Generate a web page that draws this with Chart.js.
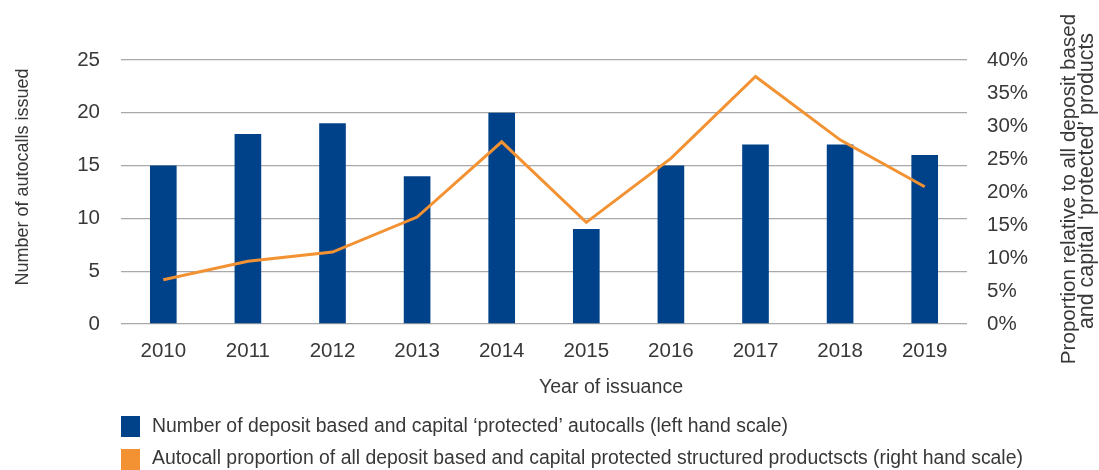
<!DOCTYPE html>
<html>
<head>
<meta charset="utf-8">
<script src="https://cdn.jsdelivr.net/npm/chart.js@4.4.1/dist/chart.umd.min.js"></script>
<style>
  html, body { margin: 0; padding: 0; background: #ffffff; }
  #wrap { position: relative; width: 1099px; height: 470px; }
</style>
</head>
<body>
<div id="wrap"><canvas id="c" width="1099" height="470"></canvas></div>
<script>
// Autocall issuance by year
const years = ['2010', '2011', '2012', '2013', '2014', '2015', '2016', '2017', '2018', '2019'];
const autocallCounts = [15, 18, 19, 14, 20, 9, 15, 17, 17, 16];
const autocallSharePct = [6.7, 9.5, 10.9, 16.2, 27.6, 15.4, 25.1, 37.5, 27.9, 20.8];

const countAxisTicks = [0, 5, 10, 15, 20, 25];
const shareAxisTicks = [0, 5, 10, 15, 20, 25, 30, 35, 40];

const countAxisTitle = 'Number of autocalls issued';
const shareAxisTitle = ['Proportion relative to all deposit based', 'and capital \u2018protected\u2019 products'];
const yearAxisTitle = 'Year of issuance';
const seriesNames = [
  'Number of deposit based and capital \u2018protected\u2019 autocalls (left hand scale)',
  'Autocall proportion of all deposit based and capital protected structured productscts (right hand scale)'
];

const BLUE = '#00428a';
const ORANGE = '#f39232';
const TEXT = '#383838';
const FONT = '"Liberation Sans", Arial, Helvetica, sans-serif';

// Axis titles and the legend are painted by hand so they can sit exactly where wanted
const annotations = {
  id: 'annotations',
  afterDraw(chart) {
    const ctx = chart.ctx;
    ctx.save();
    ctx.fillStyle = TEXT;

    // left axis title, reading upwards
    ctx.font = '18px ' + FONT;
    ctx.textAlign = 'center';
    ctx.textBaseline = 'alphabetic';
    ctx.save();
    ctx.translate(28, 177);
    ctx.rotate(-Math.PI / 2);
    ctx.fillText(countAxisTitle, 0, 0);
    ctx.restore();

    // right axis title, two lines reading upwards
    ctx.font = '20.6px ' + FONT;
    ctx.save();
    ctx.translate(1075, 189);
    ctx.rotate(-Math.PI / 2);
    ctx.fillText(shareAxisTitle[0], 0, 0);
    ctx.restore();
    ctx.font = '21.4px ' + FONT;
    ctx.save();
    ctx.translate(1093, 181);
    ctx.rotate(-Math.PI / 2);
    ctx.fillText(shareAxisTitle[1], 0, 0);
    ctx.restore();

    // x axis title
    ctx.font = '19.6px ' + FONT;
    ctx.fillText(yearAxisTitle, 611, 393);

    // legend
    const colors = [BLUE, ORANGE];
    const rows = [416, 449];
    const baselines = [432, 464];
    ctx.font = '19.4px ' + FONT;
    ctx.textAlign = 'left';
    for (let i = 0; i < seriesNames.length; i++) {
      ctx.fillStyle = colors[i];
      ctx.fillRect(121, rows[i], 19, 21);
      ctx.fillStyle = TEXT;
      ctx.fillText(seriesNames[i], 152, baselines[i]);
    }
    ctx.restore();
  }
};

new Chart(document.getElementById('c'), {
  data: {
    labels: years,
    datasets: [
      {
        type: 'line',
        label: seriesNames[1],
        data: autocallSharePct,
        yAxisID: 'y1',
        borderColor: ORANGE,
        backgroundColor: ORANGE,
        borderWidth: 3,
        pointRadius: 0,
        tension: 0,
        order: 0
      },
      {
        type: 'bar',
        label: seriesNames[0],
        data: autocallCounts,
        yAxisID: 'y',
        backgroundColor: BLUE,
        borderWidth: 0,
        categoryPercentage: 1,
        barPercentage: 0.315,
        order: 1
      }
    ]
  },
  options: {
    responsive: false,
    animation: false,
    devicePixelRatio: 1,
    layout: { padding: { top: 60, left: 0, right: 0, bottom: 0 } },
    plugins: { legend: { display: false }, tooltip: { enabled: false } },
    scales: {
      x: {
        type: 'category',
        grid: { display: false, drawTicks: false },
        border: { display: false },
        ticks: { color: TEXT, font: { family: FONT, size: 20.5 }, padding: 15, maxRotation: 0 },
        afterFit(scale) { scale.height = 146; }
      },
      y: {
        position: 'left',
        min: 0,
        max: 25,
        afterBuildTicks(scale) { scale.ticks = countAxisTicks.map(v => ({ value: v })); },
        grid: { color: '#a9a9a9', lineWidth: 1.3, drawTicks: false },
        border: { display: false },
        ticks: { color: TEXT, font: { family: FONT, size: 20.5 }, padding: 21 },
        afterFit(scale) { scale.width = 121; }
      },
      y1: {
        position: 'right',
        min: 0,
        max: 40,
        afterBuildTicks(scale) { scale.ticks = shareAxisTicks.map(v => ({ value: v })); },
        grid: { drawOnChartArea: false, drawTicks: false },
        border: { display: false },
        ticks: { color: TEXT, font: { family: FONT, size: 20.5 }, padding: 20, callback: v => v + '%' },
        afterFit(scale) { scale.width = 132; }
      }
    }
  },
  plugins: [annotations]
});
</script>
</body>
</html>
